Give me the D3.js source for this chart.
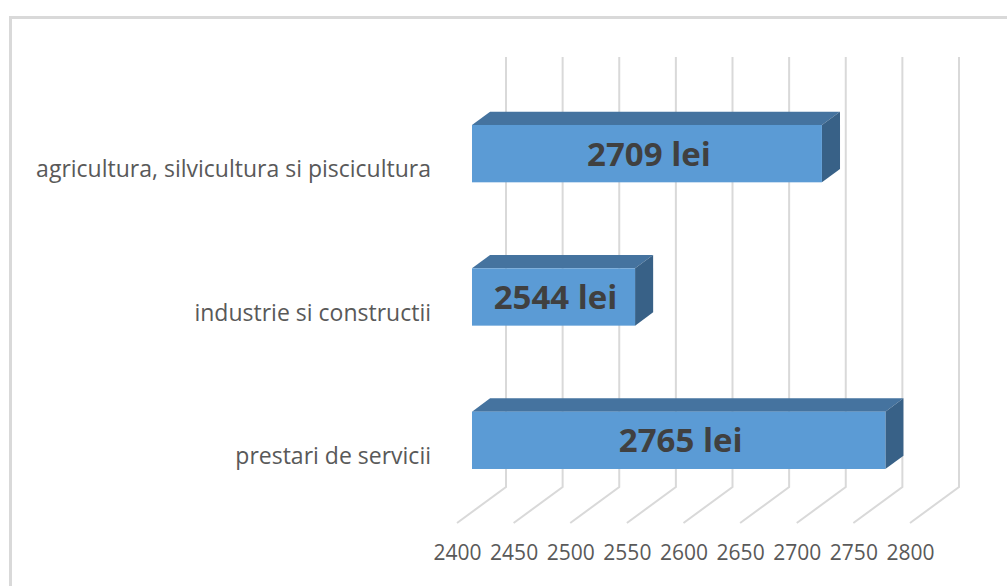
<!DOCTYPE html>
<html>
<head>
<meta charset="utf-8">
<script src="https://cdn.jsdelivr.net/npm/d3@7"></script>
<style>
  html, body { margin: 0; padding: 0; background: #fff; overflow: hidden; }
  svg { display: block; font-family: 'Open Sans', 'Liberation Sans', sans-serif; }
</style>
</head>
<body>
<svg id="chart"></svg>
<script>
// Data
const categories = ['agricultura, silvicultura si piscicultura', 'industrie si constructii', 'prestari de servicii'];
const salaries = [2709, 2544, 2765];
const ticks = [2400, 2450, 2500, 2550, 2600, 2650, 2700, 2750, 2800];

const width = 1007;
const height = 586;

// front plane of the 3D box, plus the depth vector towards the back wall
const front = { left: 457, right: 910, top: 93, bottom: 523 };
const depth = { dx: 49, dy: -36 };
// bars sit between these fractions of the depth
const barNear = 0.306;
const barFar = 0.675;

const svg = d3.select('#chart')
  .attr('width', width)
  .attr('height', height)
  .attr('viewBox', `0 0 ${width} ${height}`);

// chart frame (only top and left are inside the picture)
svg.append('rect')
  .attr('x', 10.5)
  .attr('y', 17.5)
  .attr('width', 1100)
  .attr('height', 700)
  .attr('fill', 'none')
  .attr('stroke', '#d9d9d9')
  .attr('stroke-width', 3);

const x = d3.scaleLinear()
  .domain([2400, 2800])
  .range([front.left, front.right]);

const y = d3.scaleBand()
  .domain(categories)
  .range([front.top, front.bottom])
  .paddingInner(0.6)
  .paddingOuter(0.3);

const entries = categories.map((c, i) => ({ cat: c, value: salaries[i] }));

// Gridlines: back wall vertical + floor diagonal
svg.append('g')
  .selectAll('path')
  .data(ticks)
  .join('path')
  .attr('d', t => {
    const bx = x(t) + depth.dx;
    return `M${bx},${front.top + depth.dy}V${front.bottom + depth.dy}L${x(t)},${front.bottom}`;
  })
  .attr('fill', 'none')
  .attr('stroke', '#d9d9d9')
  .attr('stroke-width', 2);

// Bars
const bars = svg.append('g');
const nx = barNear * depth.dx, ny = barNear * depth.dy;
const ddx = (barFar - barNear) * depth.dx, ddy = (barFar - barNear) * depth.dy;

const geom = d => {
  const x0 = x(2400) + nx;
  const x1 = x(d.value) + nx;
  const y0 = y(d.cat) + ny;
  const y1 = y0 + y.bandwidth();
  return { x0, x1, y0, y1 };
};

bars.selectAll('.top')
  .data(entries)
  .join('path')
  .attr('class', 'top')
  .attr('d', d => {
    const g = geom(d);
    return `M${g.x0},${g.y0}L${g.x0 + ddx},${g.y0 + ddy}L${g.x1 + ddx},${g.y0 + ddy}L${g.x1},${g.y0}Z`;
  })
  .attr('fill', '#45739f');

bars.selectAll('.side')
  .data(entries)
  .join('path')
  .attr('class', 'side')
  .attr('d', d => {
    const g = geom(d);
    return `M${g.x1},${g.y0}L${g.x1 + ddx},${g.y0 + ddy}L${g.x1 + ddx},${g.y1 + ddy}L${g.x1},${g.y1}Z`;
  })
  .attr('fill', '#386187');

bars.selectAll('.front')
  .data(entries)
  .join('rect')
  .attr('class', 'front')
  .attr('x', d => geom(d).x0)
  .attr('y', d => geom(d).y0)
  .attr('width', d => geom(d).x1 - geom(d).x0)
  .attr('height', y.bandwidth())
  .attr('fill', '#5b9bd5');

// Value labels
bars.selectAll('.val')
  .data(entries)
  .join('text')
  .attr('class', 'val')
  .attr('x', d => (geom(d).x0 + geom(d).x1) / 2 + 2)
  .attr('y', d => geom(d).y0 + y.bandwidth() / 2 + 12)
  .attr('text-anchor', 'middle')
  .attr('font-size', '33px')
  .attr('font-weight', 'bold')
  .attr('fill', '#404040')
  .text(d => `${d.value} lei`);

// X axis tick labels
const xAxis = svg.append('g')
  .attr('transform', `translate(0,${front.bottom})`)
  .call(d3.axisBottom(x).tickValues(ticks).tickSize(0).tickPadding(22).tickFormat(d3.format('d')));
xAxis.select('.domain').remove();
xAxis.selectAll('text')
  .attr('font-family', "'Open Sans', sans-serif")
  .attr('font-size', '21px')
  .attr('fill', '#595959');

// Category labels
const yAxis = svg.append('g')
  .attr('transform', `translate(${front.left},0)`)
  .call(d3.axisLeft(y).tickSize(0).tickPadding(26));
yAxis.select('.domain').remove();
yAxis.selectAll('text')
  .attr('font-family', "'Open Sans', sans-serif")
  .attr('font-size', '23px')
  .attr('dy', '0.55em')
  .attr('fill', '#595959');
</script>
</body>
</html>
